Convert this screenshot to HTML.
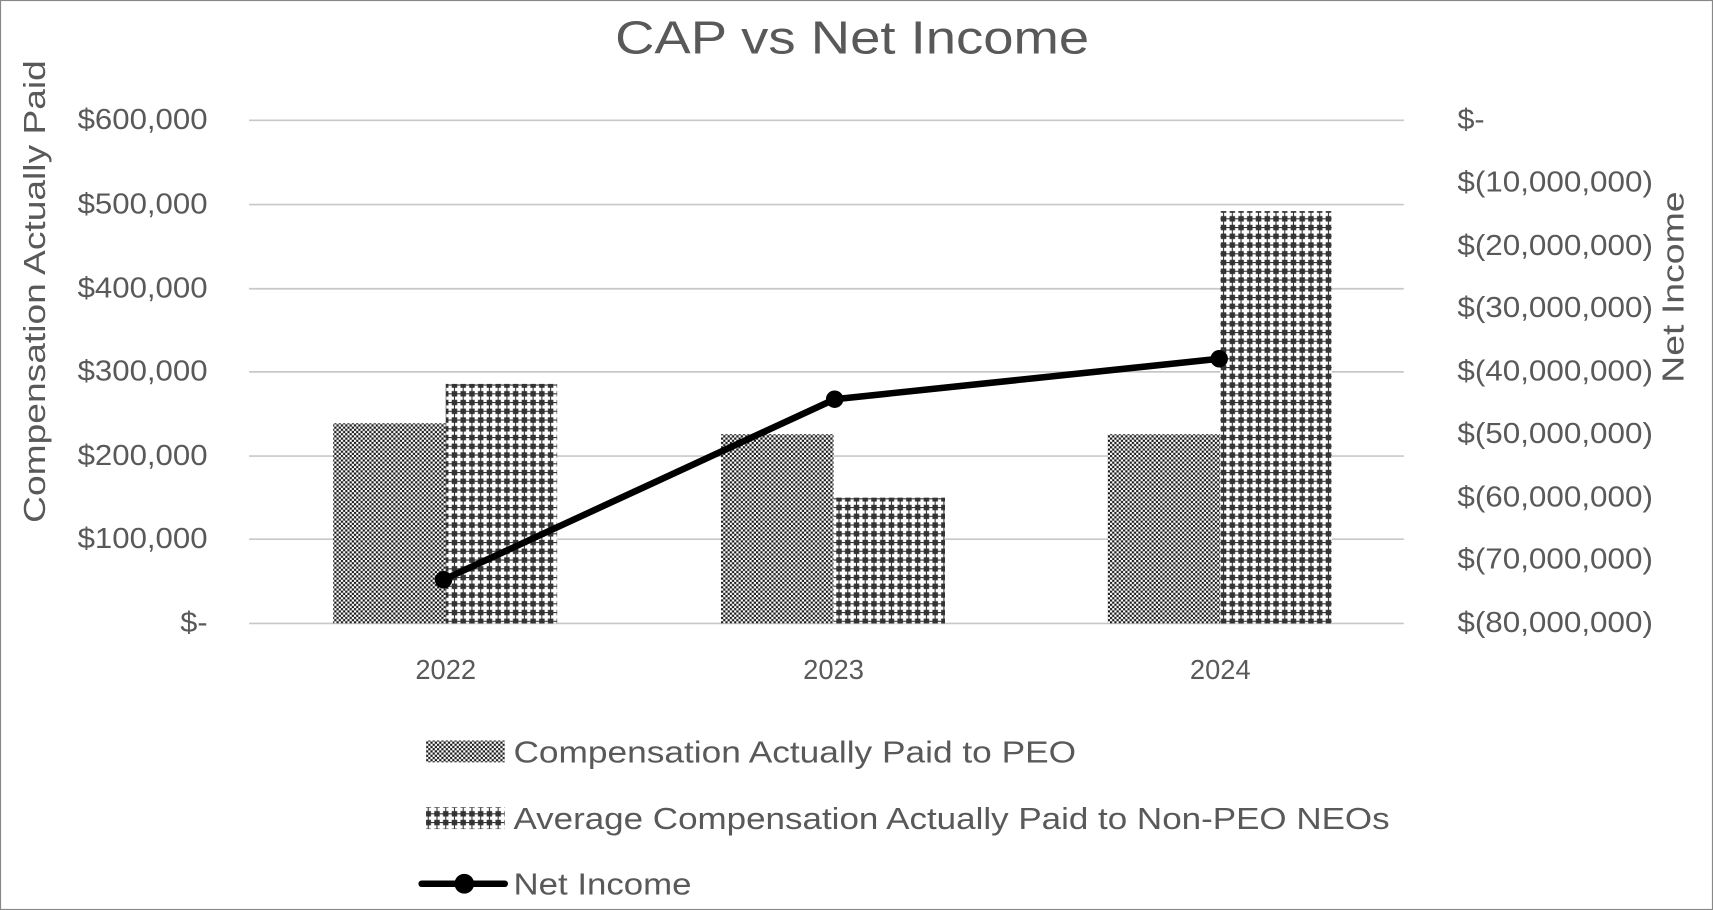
<!DOCTYPE html>
<html><head><style>html,body{margin:0;padding:0;background:#fff}svg{display:block}</style></head>
<body>
<svg width="1713" height="910" viewBox="0 0 1568 832" preserveAspectRatio="none" xmlns="http://www.w3.org/2000/svg" font-family="Liberation Sans, sans-serif">
<defs>
<pattern id="peo" width="4" height="4" patternUnits="userSpaceOnUse">
<rect width="4" height="4" fill="#fff"/><rect width="2" height="2" fill="#1a1a1a"/><rect x="2" y="2" width="2" height="2" fill="#1a1a1a"/>
</pattern>
<pattern id="non" width="8" height="8" patternUnits="userSpaceOnUse">
<rect width="8" height="8" fill="#333"/>
<path d="M0.5 2.5h2v-2h3v2h2v3h-2v2h-3v-2h-2z" fill="#fff"/>
</pattern>
</defs>
<rect x="0.5" y="0.5" width="1567" height="831" fill="#fff" stroke="#888" stroke-width="1"/>
<text x="563" y="49" textLength="434" lengthAdjust="spacingAndGlyphs" font-size="42" fill="#595959">CAP vs Net Income</text>
<g stroke="#c8c8c8" stroke-width="1.5">
<line x1="228" x2="1285" y1="110" y2="110"/><line x1="228" x2="1285" y1="187" y2="187"/>
<line x1="228" x2="1285" y1="264" y2="264"/><line x1="228" x2="1285" y1="340" y2="340"/>
<line x1="228" x2="1285" y1="417" y2="417"/><line x1="228" x2="1285" y1="493" y2="493"/>
<line x1="228" x2="1285" y1="570" y2="570"/>
</g>
<g font-size="26" fill="#595959">
<text x="71" y="118" textLength="119" lengthAdjust="spacingAndGlyphs">$600,000</text>
<text x="71" y="195" textLength="119" lengthAdjust="spacingAndGlyphs">$500,000</text>
<text x="71" y="272" textLength="119" lengthAdjust="spacingAndGlyphs">$400,000</text>
<text x="71" y="348" textLength="119" lengthAdjust="spacingAndGlyphs">$300,000</text>
<text x="71" y="425" textLength="119" lengthAdjust="spacingAndGlyphs">$200,000</text>
<text x="71" y="501" textLength="119" lengthAdjust="spacingAndGlyphs">$100,000</text>
<text x="165" y="578" textLength="25" lengthAdjust="spacingAndGlyphs">$-</text>
</g>
<g font-size="26" fill="#595959">
<text x="1334" y="118" textLength="25" lengthAdjust="spacingAndGlyphs">$-</text>
<text x="1334" y="175" textLength="179" lengthAdjust="spacingAndGlyphs">$(10,000,000)</text>
<text x="1334" y="233" textLength="179" lengthAdjust="spacingAndGlyphs">$(20,000,000)</text>
<text x="1334" y="290" textLength="179" lengthAdjust="spacingAndGlyphs">$(30,000,000)</text>
<text x="1334" y="348" textLength="179" lengthAdjust="spacingAndGlyphs">$(40,000,000)</text>
<text x="1334" y="405" textLength="179" lengthAdjust="spacingAndGlyphs">$(50,000,000)</text>
<text x="1334" y="463" textLength="179" lengthAdjust="spacingAndGlyphs">$(60,000,000)</text>
<text x="1334" y="520" textLength="179" lengthAdjust="spacingAndGlyphs">$(70,000,000)</text>
<text x="1334" y="578" textLength="179" lengthAdjust="spacingAndGlyphs">$(80,000,000)</text>
</g>
<text transform="translate(41,478) rotate(-90)" font-size="28" fill="#595959" textLength="423" lengthAdjust="spacingAndGlyphs">Compensation Actually Paid</text>
<text transform="translate(1541,350) rotate(-90)" font-size="28" fill="#595959" textLength="175" lengthAdjust="spacingAndGlyphs">Net Income</text>
<rect x="305" y="387" width="103" height="183" fill="url(#peo)"/>
<rect x="408" y="351" width="102" height="219" fill="url(#non)"/>
<rect x="660" y="397" width="103" height="173" fill="url(#peo)"/>
<rect x="763" y="455" width="102" height="115" fill="url(#non)"/>
<rect x="1014" y="397" width="103" height="173" fill="url(#peo)"/>
<rect x="1117" y="193" width="102" height="377" fill="url(#non)"/>
<polyline points="406,530 764,365 1116,328" fill="none" stroke="#000" stroke-width="6" stroke-linejoin="round"/>
<circle cx="406" cy="530" r="8" fill="#000"/><circle cx="764" cy="365" r="8" fill="#000"/><circle cx="1116" cy="328" r="8" fill="#000"/>
<g font-size="25" fill="#595959" text-anchor="middle">
<text x="408" y="621">2022</text><text x="763" y="621">2023</text><text x="1117" y="621">2024</text>
</g>
<rect x="390" y="677" width="72" height="20" fill="url(#peo)"/>
<rect x="390" y="738" width="72" height="20" fill="url(#non)"/>
<line x1="386" x2="462" y1="808" y2="808" stroke="#000" stroke-width="6" stroke-linecap="round"/>
<circle cx="425" cy="808" r="9" fill="#000"/>
<g font-size="28" fill="#595959">
<text x="470" y="697" textLength="515" lengthAdjust="spacingAndGlyphs">Compensation Actually Paid to PEO</text>
<text x="470" y="758" textLength="802" lengthAdjust="spacingAndGlyphs">Average Compensation Actually Paid to Non-PEO NEOs</text>
<text x="470" y="818" textLength="163" lengthAdjust="spacingAndGlyphs">Net Income</text>
</g>
</svg>
</body></html>
